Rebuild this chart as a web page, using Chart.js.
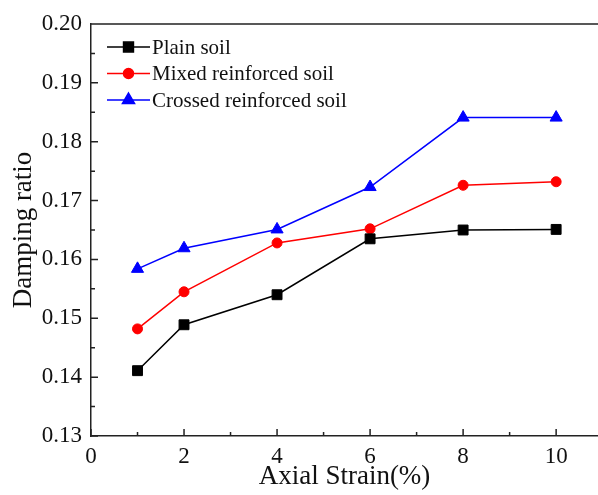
<!DOCTYPE html>
<html>
<head>
<meta charset="utf-8">
<title>Damping ratio vs axial strain</title>
<script src="https://cdn.jsdelivr.net/npm/chart.js@4.4.1/dist/chart.umd.min.js"></script>
<style>
  html, body { margin: 0; padding: 0; background: #fff; }
  #wrap { width: 598px; height: 495px; }
</style>
</head>
<body>
<div id="wrap"><canvas id="chart" width="598" height="495"></canvas></div>
<script>
// --- data ---
const strain = [1, 2, 4, 6, 8, 10];
const plainSoil = [0.1411, 0.1489, 0.1540, 0.1635, 0.1650, 0.1651];
const mixedSoil = [0.1482, 0.1545, 0.1628, 0.1652, 0.1726, 0.1732];
const crossedSoil = [0.1584, 0.1619, 0.1651, 0.1723, 0.1841, 0.1841];
const seriesNames = ['Plain soil', 'Mixed reinforced soil', 'Crossed reinforced soil'];
const xTicks = [0, 2, 4, 6, 8, 10];
const yTicks = [0.13, 0.14, 0.15, 0.16, 0.17, 0.18, 0.19, 0.20];

const SERIF = '"Liberation Serif", "Times New Roman", serif';
const AXIS = '#222';

const pts = ys => strain.map((x, i) => ({ x, y: ys[i] }));

function series(label, data, color, style, radius) {
  return {
    label, data: pts(data),
    borderColor: color, backgroundColor: color,
    borderWidth: 1.5, pointStyle: style, pointRadius: radius,
    pointBorderWidth: 1, pointHoverRadius: radius, tension: 0
  };
}

// inward ticks (major + minor) and the top frame line
const frame = {
  id: 'frame',
  afterDraw(chart) {
    const { ctx, chartArea: a, scales: { x, y } } = chart;
    ctx.save();
    ctx.strokeStyle = AXIS;
    ctx.lineWidth = 1.5;
    ctx.beginPath();
    ctx.moveTo(a.left, a.top);
    ctx.lineTo(a.right, a.top);
    // x ticks
    xTicks.forEach(v => {
      const px = x.getPixelForValue(v);
      ctx.moveTo(px, a.bottom); ctx.lineTo(px, a.bottom - 7);
      const mid = x.getPixelForValue(v + 1);
      if (mid < a.right) { ctx.moveTo(mid, a.bottom); ctx.lineTo(mid, a.bottom - 4); }
    });
    // y ticks
    yTicks.forEach((v, i) => {
      const py = y.getPixelForValue(v);
      ctx.moveTo(a.left, py); ctx.lineTo(a.left + 7, py);
      if (i < yTicks.length - 1) {
        const mid = y.getPixelForValue(v + 0.005);
        ctx.moveTo(a.left, mid); ctx.lineTo(a.left + 4, mid);
      }
    });
    ctx.stroke();
    ctx.restore();
  }
};

// legend inside the plot: short line with the marker on it
const insideLegend = {
  id: 'insideLegend',
  afterDatasetsDraw(chart) {
    const { ctx, chartArea: a } = chart;
    const x0 = a.left + 16, x1 = a.left + 59, tx = a.left + 61;
    ctx.save();
    ctx.font = '21px ' + SERIF;
    ctx.textBaseline = 'middle';
    chart.data.datasets.forEach((ds, i) => {
      const yy = a.top + 23 + i * 26.5;
      ctx.strokeStyle = ds.borderColor;
      ctx.lineWidth = 1.5;
      ctx.beginPath(); ctx.moveTo(x0, yy); ctx.lineTo(x1, yy); ctx.stroke();
      ctx.fillStyle = ds.backgroundColor;
      Chart.helpers.drawPoint(ctx, {
        pointStyle: ds.pointStyle, radius: ds.pointRadius, rotation: 0, borderWidth: 1
      }, (x0 + x1) / 2, yy);
      ctx.fillStyle = '#111';
      ctx.fillText(seriesNames[i], tx, yy + 1);
    });
    ctx.restore();
  }
};

new Chart(document.getElementById('chart'), {
  type: 'line',
  data: {
    datasets: [
      series(seriesNames[0], plainSoil, '#000000', 'rect', 7),
      series(seriesNames[1], mixedSoil, '#ff0000', 'circle', 5),
      series(seriesNames[2], crossedSoil, '#0000ff', 'triangle', 7)
    ]
  },
  options: {
    responsive: false,
    animation: false,
    layout: { autoPadding: false, padding: { top: 24, right: 0, left: 0, bottom: 0 } },
    plugins: { legend: { display: false }, tooltip: { enabled: false } },
    scales: {
      x: {
        type: 'linear', min: 0, max: 10.9,
        afterFit: s => { s.height = 59; s.paddingLeft = 0; s.paddingRight = 0; },
        afterBuildTicks: s => { s.ticks = xTicks.map(v => ({ value: v })); },
        grid: { display: true, drawOnChartArea: false, drawTicks: false },
        border: { color: AXIS, width: 1.5 },
        ticks: { padding: 7, color: '#111', font: { family: SERIF, size: 23 }, maxRotation: 0 },
        title: { display: true, text: 'Axial Strain(%)', color: '#111',
                 font: { family: SERIF, size: 27 }, padding: { top: 0, bottom: 2 } }
      },
      y: {
        min: 0.13, max: 0.20,
        afterFit: s => { s.width = 91; s.paddingTop = 0; s.paddingBottom = 0; },
        afterBuildTicks: s => { s.ticks = yTicks.map(v => ({ value: v })); },
        grid: { display: true, drawOnChartArea: false, drawTicks: false },
        border: { color: AXIS, width: 1.5 },
        ticks: { padding: 9, color: '#111', font: { family: SERIF, size: 23 },
                 callback: v => v.toFixed(2) },
        title: { display: true, text: 'Damping ratio', color: '#111',
                 font: { family: SERIF, size: 27 }, padding: { top: 8, bottom: 0 } }
      }
    }
  },
  plugins: [frame, insideLegend]
});
</script>
</body>
</html>
